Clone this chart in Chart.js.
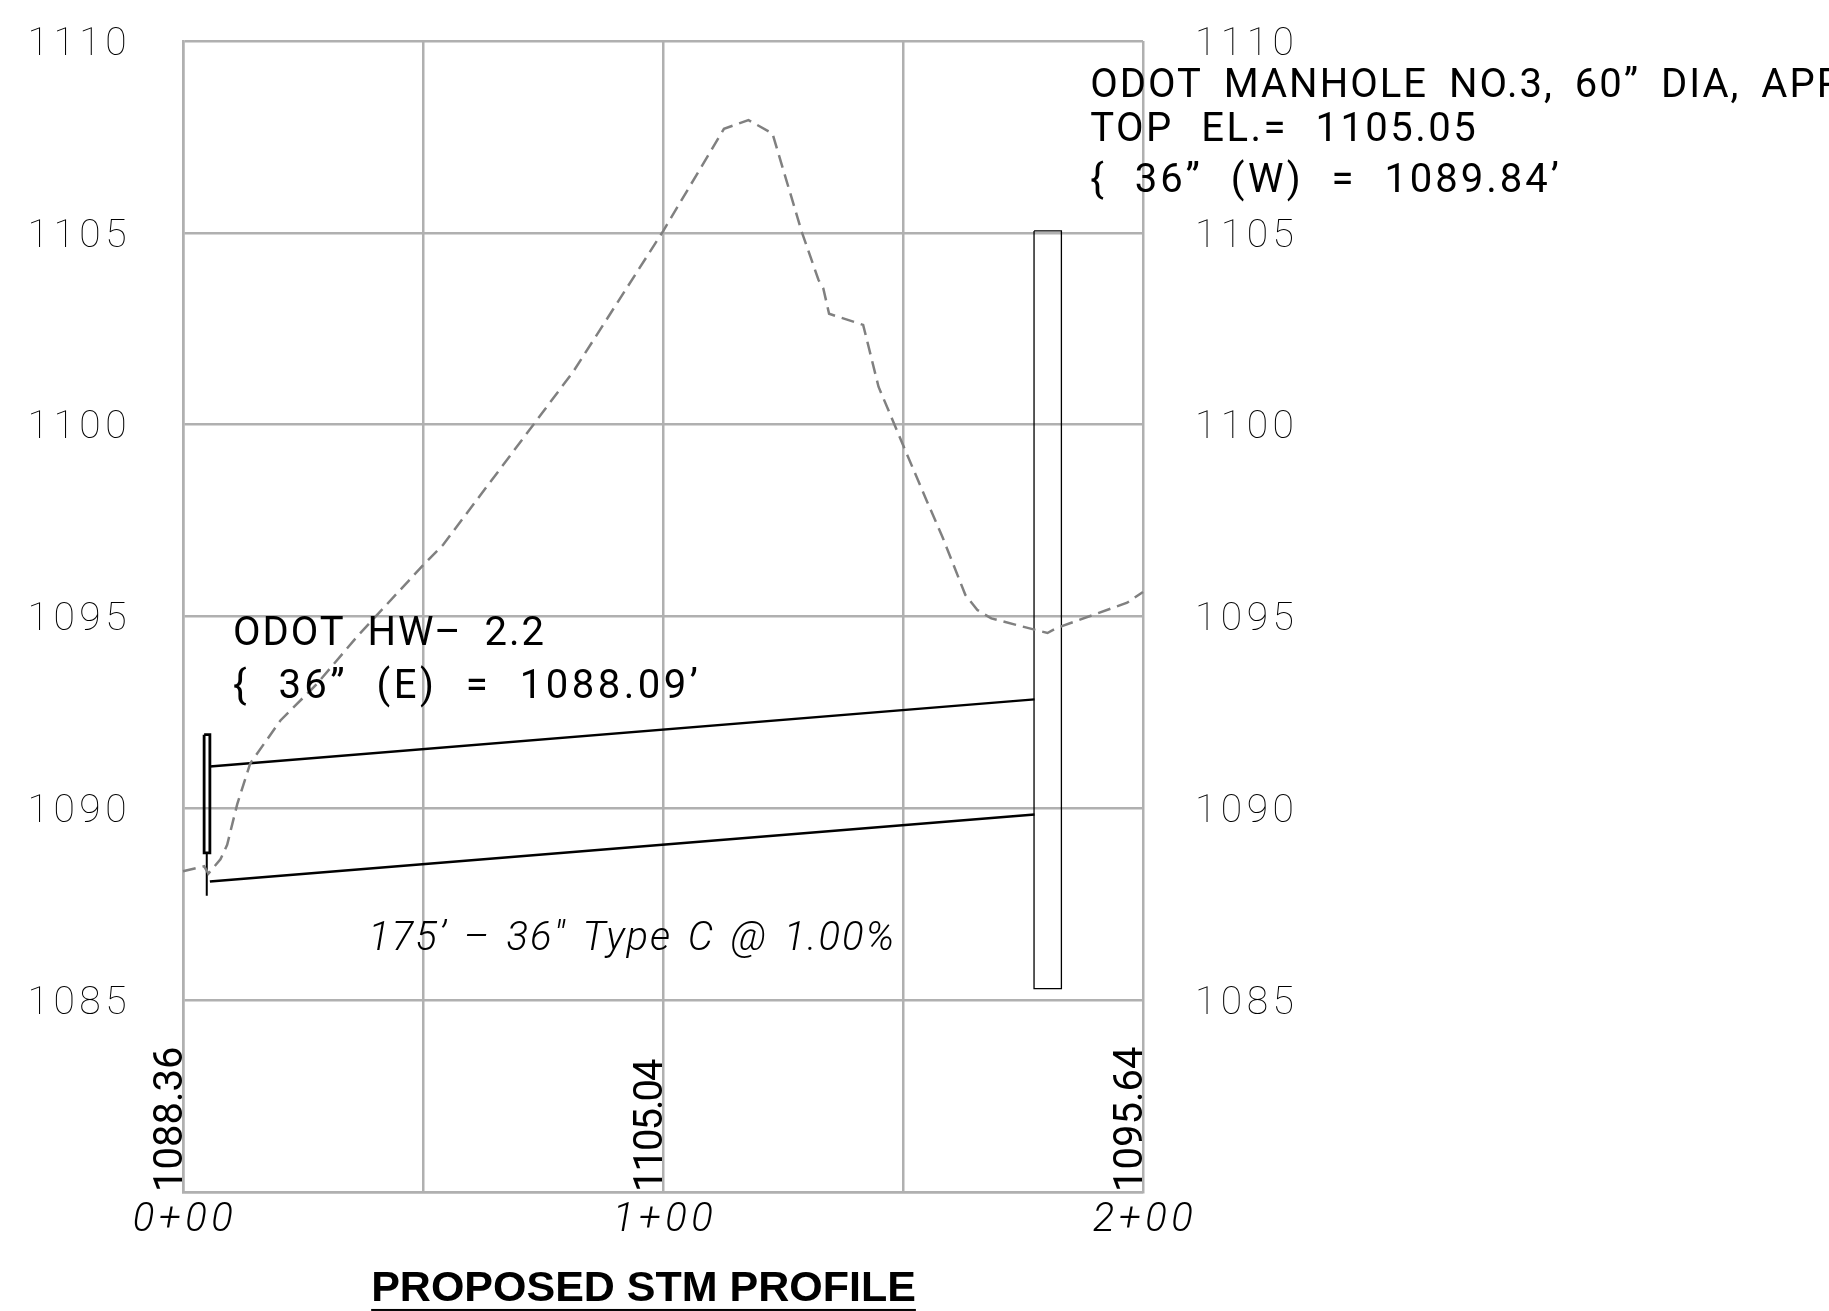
<!DOCTYPE html>
<html>
<head>
<meta charset="utf-8">
<title>Proposed STM Profile</title>
<script src="https://cdn.jsdelivr.net/npm/chart.js@4"></script>
<style>
  html, body { margin: 0; padding: 0; background: #fff; overflow: hidden; }
  canvas { display: block; }
</style>
</head>
<body>
<canvas id="profile" width="1829" height="1311"></canvas>
<script>
// Existing ground (station in ft, elevation in ft)
const groundStations = [0, 4.4, 5.3, 7.8, 9.2, 11.3, 14, 20.3, 27.8, 36.3, 50.1, 54.2, 81.4, 100, 112.7, 117.8, 122.8, 128.9, 132.4, 133.4, 134.6, 141.7, 144.9, 149.7, 155, 158.2, 163, 165.5, 168.4, 180.1, 181.8, 196.7, 200];
const groundElevations = [1088.36, 1088.49, 1088.3, 1088.67, 1089.05, 1090.11, 1091.17, 1092.29, 1093.23, 1094.48, 1096.35, 1096.87, 1101.4, 1105.04, 1107.71, 1107.94, 1107.59, 1105.03, 1103.77, 1103.55, 1102.89, 1102.6, 1100.99, 1099.56, 1098, 1097.08, 1095.56, 1095.17, 1094.95, 1094.57, 1094.69, 1095.36, 1095.64];

// Pipe
const pipeStations = [5.6, 177.4];
const pipeCrown = [1091.09, 1092.84];
const pipeInvert = [1088.09, 1089.84];

// Headwall and manhole outlines
const headwallStations = [4.4, 5.6, 5.6, 4.4, 4.4];
const headwallElevations = [1091.92, 1091.92, 1088.84, 1088.84, 1091.92];
const headwallStemStations = [4.95, 4.95];
const headwallStemElevations = [1088.84, 1087.72];
const manholeStations = [177.3, 183, 183, 177.3, 177.3];
const manholeElevations = [1105.05, 1105.05, 1085.3, 1085.3, 1105.05];

// Axis labels
const elevationTicks = [1085, 1090, 1095, 1100, 1105, 1110];
const stationLabels = { 0: '0+00', 100: '1+00', 200: '2+00' };

// Ground elevations printed along the bottom
const printedStations = [0, 100, 200];
const printedElevations = ['1088.36', '1105.04', '1095.64'];
const printedTracking = ['0px', '-2px', '0px'];

const noteFont = '400 40px Roboto';
const noteItalic = 'italic 300 40px Roboto';

// Text on the sheet, anchored in station / elevation
const notes = [
  { text: 'ODOT HW\u2013 2.2', x: 10.4, y: 1094.26, font: noteFont, tracking: '2px', gap: '10px' },
  { text: '{ 36\u201D (E) = 1088.09\u2019', x: 10.4, y: 1092.88, font: noteFont, tracking: '3.5px', gap: '15px' },
  { text: '175\u2019 \u2013 36\u2033 Type C @ 1.00%', x: 38.6, y: 1086.31, font: noteItalic, tracking: '2px', gap: '4px' },
  { text: 'ODOT MANHOLE NO.3, 60\u201D DIA, APPR', x: 189, y: 1108.54, font: noteFont, tracking: '2px', gap: '9px' },
  { text: 'TOP EL.= 1105.05', x: 189, y: 1107.4, font: noteFont, tracking: '2.5px', gap: '15px' },
  { text: '{ 36\u201D (W) = 1089.84\u2019', x: 189, y: 1106.06, font: noteFont, tracking: '3px', gap: '15px' }
];

function xy(xs, ys) {
  return xs.map((x, i) => ({ x, y: ys[i] }));
}

function lineSet(label, xs, ys, color, width, dash) {
  return {
    label,
    data: xy(xs, ys),
    showLine: true,
    borderColor: color,
    borderWidth: width,
    borderDash: dash || [],
    pointRadius: 0,
    fill: false,
    tension: 0,
    clip: false
  };
}

const sheetText = {
  id: 'sheetText',
  beforeDraw(chart) {
    chart.ctx.letterSpacing = '4.5px';
  },
  afterDatasetsDraw(chart) {
    const { ctx, scales } = chart;
    ctx.save();
    ctx.fillStyle = '#000';
    ctx.textAlign = 'left';
    ctx.textBaseline = 'alphabetic';

    notes.forEach(n => {
      ctx.font = n.font;
      ctx.letterSpacing = n.tracking;
      ctx.wordSpacing = n.gap;
      ctx.fillText(n.text, scales.x.getPixelForValue(n.x), scales.y.getPixelForValue(n.y));
    });

    // Rotated ground elevations, sitting on the bottom axis
    ctx.font = noteFont;
    printedElevations.forEach((label, i) => {
      ctx.save();
      ctx.letterSpacing = printedTracking[i];
      ctx.translate(scales.x.getPixelForValue(printedStations[i]), scales.y.getPixelForValue(1080));
      ctx.rotate(-Math.PI / 2);
      ctx.fillText(label, 0, -1);
      ctx.restore();
    });

    // Drawing title with its underline
    const title = 'PROPOSED STM PROFILE';
    const tx = scales.x.getPixelForValue(39.2);
    const ty = scales.y.getPixelForValue(1077.16);
    ctx.font = 'bold 43px "Liberation Sans"';
    ctx.letterSpacing = '0px';
    ctx.wordSpacing = '0px';
    ctx.fillText(title, tx, ty);
    ctx.fillRect(tx, ty + 8, ctx.measureText(title).width, 2);
    ctx.restore();
  }
};

const elevationAxis = position => ({
  type: 'linear',
  position,
  min: 1080,
  max: 1110,
  afterBuildTicks(axis) {
    axis.ticks = [1080].concat(elevationTicks).map(value => ({ value }));
  },
  afterFit(axis) {
    axis.width = position === 'left' ? 183 : 686;
    axis.paddingTop = 0;
    axis.paddingBottom = 0;
  },
  border: { display: position === 'left', color: '#b0b0b0', width: 2.5 },
  grid: {
    display: position === 'left',
    color: '#b0b0b0',
    lineWidth: 2.5,
    drawTicks: false
  },
  ticks: {
    padding: 52,
    color: '#000',
    font: { family: 'Roboto', size: 39, weight: '100', lineHeight: '8px' },
    // empty first line pushes the number down a little, the CAD labels sit low
    callback: value => (elevationTicks.includes(value) ? ['', String(value)] : '')
  }
});

new Chart(document.getElementById('profile'), {
  type: 'scatter',
  data: {
    datasets: [
      lineSet('Existing ground', groundStations, groundElevations, '#808080', 2.5, [13, 7]),
      lineSet('Pipe crown', pipeStations, pipeCrown, '#000', 2.5),
      lineSet('Pipe invert', pipeStations, pipeInvert, '#000', 2.5),
      lineSet('Headwall', headwallStations, headwallElevations, '#000', 2.8),
      lineSet('Headwall stem', headwallStemStations, headwallStemElevations, '#000', 2),
      lineSet('Manhole', manholeStations, manholeElevations, '#000', 1.3)
    ]
  },
  options: {
    responsive: false,
    animation: false,
    layout: { padding: { top: 41 } },
    plugins: { legend: { display: false }, tooltip: { enabled: false }, title: { display: false } },
    scales: {
      x: {
        type: 'linear',
        min: 0,
        max: 200,
        afterBuildTicks(axis) {
          axis.ticks = [0, 50, 100, 150, 200].map(value => ({ value }));
        },
        afterFit(axis) {
          axis.height = 119;
        },
        border: { color: '#b0b0b0', width: 2.5 },
        grid: { color: '#b0b0b0', lineWidth: 2.5, drawTicks: false },
        ticks: {
          padding: 5,
          labelOffset: 2,
          maxRotation: 0,
          autoSkip: false,
          color: '#000',
          font: { family: 'Roboto', size: 40, style: 'italic', weight: '300' },
          callback: value => stationLabels[value] || ''
        }
      },
      y: elevationAxis('left'),
      yRight: elevationAxis('right')
    }
  },
  plugins: [sheetText]
});
</script>
</body>
</html>
